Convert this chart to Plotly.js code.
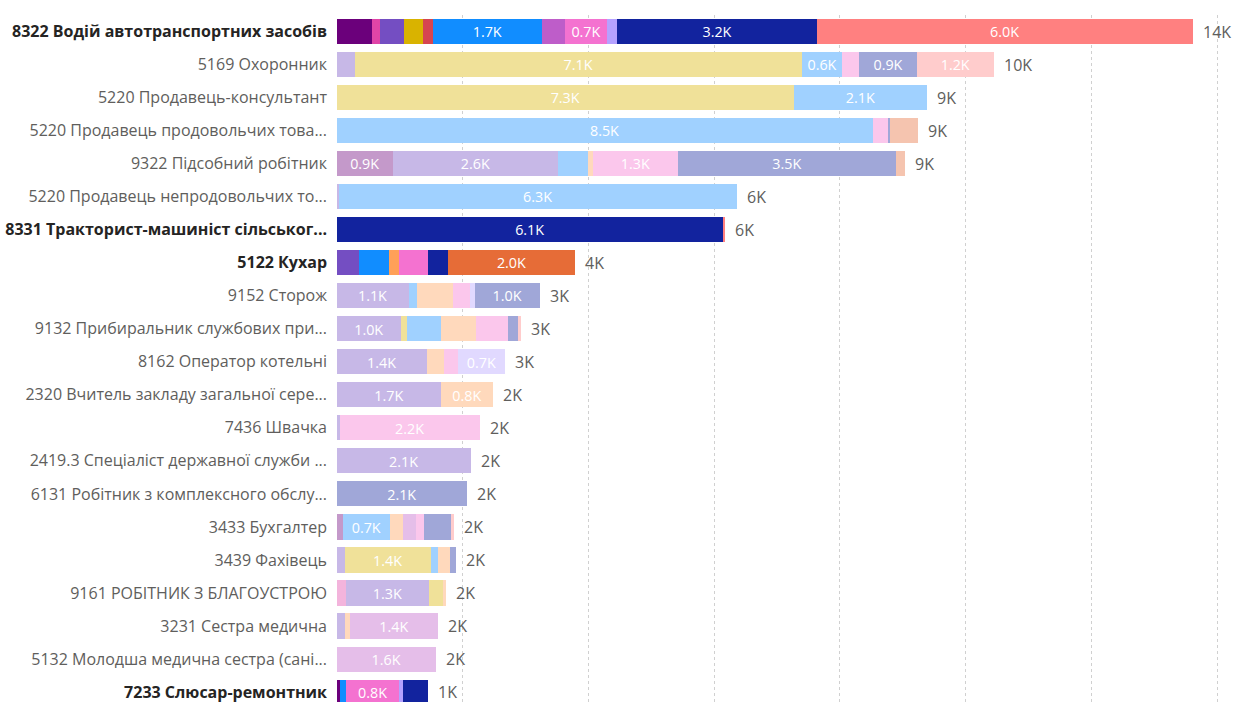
<!DOCTYPE html>
<html>
<head>
<meta charset="utf-8">
<script src="https://cdn.plot.ly/plotly-3.0.1.min.js"></script>
<style>html,body{margin:0;padding:0;background:#fff;}#chart{width:1234px;height:702px;}</style>
</head>
<body>
<div id="chart"></div>
<script>
// Categories (top to bottom)
const categories = [
  "8322 Водій автотранспортних засобів",
  "5169 Охоронник",
  "5220 Продавець-консультант",
  "5220 Продавець продовольчих това...",
  "9322 Підсобний робітник",
  "5220 Продавець непродовольчих то...",
  "8331 Тракторист-машиніст сільськог...",
  "5122 Кухар",
  "9152 Сторож",
  "9132 Прибиральник службових при...",
  "8162 Оператор котельні",
  "2320 Вчитель закладу загальної сере...",
  "7436 Швачка",
  "2419.3 Спеціаліст державної служби ...",
  "6131 Робітник з комплексного обслу...",
  "3433 Бухгалтер",
  "3439 Фахівець",
  "9161 РОБІТНИК З БЛАГОУСТРОЮ",
  "3231 Сестра медична",
  "5132 Молодша медична сестра (сані...",
  "7233 Слюсар-ремонтник"
];
// Highlighted (bold, full colour) rows
const highlighted = [1,0,0,0,0,0,1,1,0,0,0,0,0,0,0,0,0,0,0,0,1];

// Series values in thousands, one value per category (same order as categories)
const s01 = [0.56,0,0,0,0.89,0,0,0,0,0,0,0,0,0,0,0.10,0,0,0,0,0.05];
const s02 = [0.13,0,0,0,0,0,0,0,0,0,0,0,0,0,0,0,0,0.14,0,0,0];
const s03 = [0.38,0.28,0,0,2.63,0.03,0,0.35,1.14,1.02,1.43,1.66,0.05,2.13,0,0,0.13,1.33,0.13,0,0];
const s04 = [0.30,7.12,7.27,0,0,0,0,0,0,0.10,0,0,0,0,0,0,1.36,0.21,0,0,0];
const s05 = [0.16,0,0,0,0,0,0,0,0,0,0,0,0,0,0,0,0,0,0,0,0];
const s06 = [1.73,0.64,2.12,8.52,0.48,6.33,0,0.48,0.13,0.53,0,0,0,0,0,0.74,0.11,0,0,0,0.10];
const s07 = [0,0,0,0,0.08,0,0,0.16,0.58,0.56,0.28,0.82,0,0,0,0.21,0.19,0.05,0.08,0,0];
const s08 = [0.37,0,0,0,0,0,0,0,0,0,0,0,0,0,0,0.20,0,0,1.40,1.57,0];
const s09 = [0.67,0.27,0,0.24,1.34,0,0,0.46,0.26,0.51,0.22,0,2.22,0,0,0.14,0,0,0,0,0.84];
const s10 = [0.16,0,0,0,0,0,0,0,0.08,0,0.74,0,0,0,0,0,0,0,0,0,0.06];
const s11 = [3.18,0.92,0,0.03,3.48,0,6.14,0.32,1.04,0.16,0,0,0,0,2.07,0.42,0.11,0,0,0,0.40];
const s12 = [0,0,0,0.46,0.14,0,0,2.02,0,0,0,0,0,0,0,0,0,0,0,0,0];
const s13 = [5.97,1.22,0,0,0,0,0.04,0,0,0.05,0,0,0,0,0,0.05,0,0,0,0,0];

const seriesValues = [s01,s02,s03,s04,s05,s06,s07,s08,s09,s10,s11,s12,s13];
const seriesNames = ["Група 1","Група 2","Група 3","Група 4","Група 5","Група 6","Група 7","Група 8","Група 9","Група 10","Група 11","Група 12","Група 13"];
const seriesColors = ["#6B007B","#E044A7","#744EC2","#D9B300","#D64550","#118DFF","#FFA058","#BE5DC9","#F472D0","#B5A1FF","#12239E","#E66C37","#FF8080"];

function fade(hex, a){
  const r=parseInt(hex.slice(1,3),16), g=parseInt(hex.slice(3,5),16), b=parseInt(hex.slice(5,7),16);
  const m=v=>Math.round(255-(255-v)*a);
  return `rgb(${m(r)},${m(g)},${m(b)})`;
}

const FONT = "'Segoe UI', 'Open Sans', 'Noto Sans', sans-serif";

const traces = seriesValues.map((vals, si) => ({
  type: 'bar',
  orientation: 'h',
  name: seriesNames[si],
  y: categories,
  x: vals,
  marker: {
    color: vals.map((v, i) => highlighted[i] ? seriesColors[si] : fade(seriesColors[si], 0.4)),
    line: {width: 0}
  },
  text: vals.map(v => v >= 0.6 ? v.toFixed(1) + 'K' : ''),
  textposition: 'inside',
  insidetextanchor: 'middle',
  textangle: 0,
  insidetextfont: {family: FONT, size: 15, color: '#ffffff'},
  hoverinfo: 'name+x',
  showlegend: false
}));

const totals = categories.map((c, i) => seriesValues.reduce((s, arr) => s + arr[i], 0));

const annotations = categories.map((c, i) => ({
  x: totals[i],
  y: c,
  xref: 'x',
  yref: 'y',
  text: Math.round(totals[i]) + 'K',
  showarrow: false,
  xanchor: 'left',
  yanchor: 'middle',
  xshift: 8,
  font: {family: FONT, size: 16, color: '#605E5C'}
}));

const tickText = categories.map((c, i) => highlighted[i]
  ? `<b><span style="color:#252423">${c}</span></b>`
  : `<span style="color:#605E5C">${c}</span>`);

const layout = {
  width: 1234,
  height: 702,
  margin: {l: 337, r: 0, t: 15, b: 0, pad: 0},
  paper_bgcolor: '#ffffff',
  plot_bgcolor: '#ffffff',
  barmode: 'stack',
  bargap: 0.24,
  font: {family: FONT, size: 14, color: '#605E5C'},
  xaxis: {
    range: [0, 14.27],
    showticklabels: false,
    dtick: 2,
    tick0: 0,
    showgrid: true,
    gridcolor: '#D0D0D0',
    griddash: 'dot',
    gridwidth: 1,
    zeroline: false,
    showline: false,
    ticks: ''
  },
  yaxis: {
    type: 'category',
    categoryorder: 'array',
    categoryarray: categories,
    tickvals: categories,
    ticktext: tickText,
    range: [20.3, -0.5],
    autorange: false,
    showgrid: false,
    zeroline: false,
    showline: false,
    ticks: '',
    ticklabelstandoff: 9,
    tickfont: {family: FONT, size: 16, color: '#605E5C'}
  },
  annotations: annotations,
  showlegend: false
};

Plotly.newPlot('chart', traces, layout, {displayModeBar: false, staticPlot: true});
</script>
</body>
</html>
